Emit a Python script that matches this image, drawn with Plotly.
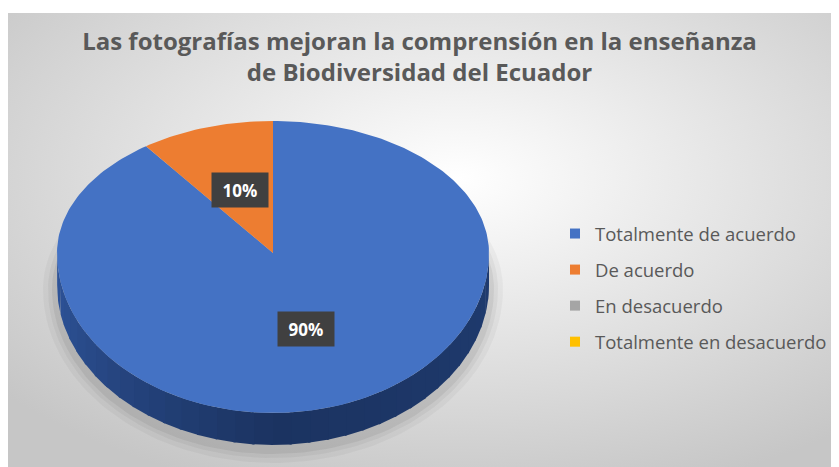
import base64
import numpy as np
import plotly.graph_objects as go

# ---- data ----
categories = ["Totalmente de acuerdo", "De acuerdo", "En desacuerdo", "Totalmente en desacuerdo"]
values = [90, 10, 0, 0]
colors = ["#4472C4", "#ED7D31", "#A5A5A5", "#FFC000"]
title_text = "Las fotografías mejoran la comprensión en la enseñanza<br>de Biodiversidad del Ecuador"

# ---- geometry ----
W, H = 839, 467
OFF = 8                      # page body margin: data coords == screen pixels
FW, FH = W - OFF, H - OFF    # figure size so it ends exactly at the window edge
cx, cy = 273, 253            # apex of the pie's top face
rx = 216
ry_far, ry_near = 132, 160   # perspective: far half flatter than near half
depth = 32


def rim(theta_deg, dy=0.0):
    t = np.radians(theta_deg)
    c = np.cos(t)
    ry = np.where(c > 0, ry_far, ry_near)
    return cx + rx * np.sin(t), cy - ry * c + dy


fig = go.Figure()

# soft shadow under the pie
for grow, alpha in [(14, 0.035), (9, 0.045), (5, 0.06)]:
    th = np.linspace(0, 360, 181)
    sx, sy = rim(th, depth + 4)
    sx = cx + (sx - cx) * (1 + grow / rx)
    sy = (cy + depth + 4) + (sy - cy - depth - 4) * (1 + grow / ry_near)
    fig.add_trace(go.Scatter(x=sx, y=sy, mode="lines", fill="toself",
                             line=dict(width=0), fillcolor=f"rgba(0,0,0,{alpha})",
                             hoverinfo="skip", showlegend=False))

total = sum(values)
angles = np.cumsum([0] + [v / total * 360 for v in values])


def lerp_color(c1, c2, f):
    a = [int(c1[i:i + 2], 16) for i in (1, 3, 5)]
    b = [int(c2[i:i + 2], 16) for i in (1, 3, 5)]
    return "#%02x%02x%02x" % tuple(int(round(a[k] + (b[k] - a[k]) * f)) for k in range(3))


# side wall of the 3D pie (visible front half, 90..270 deg clockwise from top)
seg_edges = np.linspace(90, 270, 37)
for i in range(len(seg_edges) - 1):
    a0, a1 = seg_edges[i], min(seg_edges[i + 1] + 0.6, 270)
    mid = (a0 + a1) / 2
    f = (mid - 90) / 180.0
    if f < 0.5:
        col = lerp_color("#1f3b6f", "#1b3361", f / 0.5)
    else:
        col = lerp_color("#1b3361", "#2f559c", (f - 0.5) / 0.5)
    th = np.linspace(a0, a1, 6)
    tx, ty = rim(th)
    bx, by = rim(th[::-1], depth)
    fig.add_trace(go.Scatter(x=np.r_[tx, bx], y=np.r_[ty, by], mode="lines", fill="toself",
                             line=dict(width=0), fillcolor=col,
                             hoverinfo="skip", showlegend=False))

# top face slices
for i, (cat, v) in enumerate(zip(categories, values)):
    if v <= 0:
        continue
    th = np.linspace(angles[i], angles[i + 1], max(4, int(v * 3)))
    ax, ay = rim(th)
    fig.add_trace(go.Scatter(x=np.r_[cx, ax, cx], y=np.r_[cy, ay, cy], mode="lines",
                             fill="toself", line=dict(width=0), fillcolor=colors[i],
                             name=cat, hoverinfo="name", showlegend=False))

# legend entries
for i, cat in enumerate(categories):
    fig.add_trace(go.Scatter(x=[None], y=[None], mode="markers", name=cat,
                             legendgroup=cat,
                             marker=dict(symbol="square", size=10, color=colors[i])))

# data labels (at half radius along each slice's mid angle)
annotations = []
for i, v in enumerate(values):
    if v <= 0:
        continue
    mid = (angles[i] + angles[i + 1]) / 2
    px, py = rim(mid)
    lx = cx + 0.5 * (px - cx)
    ly = cy + 0.5 * (py - cy)
    annotations.append(dict(x=float(lx), y=float(ly), xref="x", yref="y",
                            text=f"<b>{v / total:.0%}</b>", showarrow=False,
                            bgcolor="#404040", borderpad=5, width=46, height=24,
                            font=dict(family="Open Sans", size=17, color="white")))

svg = ('<svg xmlns="http://www.w3.org/2000/svg" width="832" height="454">'
       '<defs><radialGradient id="g" cx="54%" cy="36%" r="72%">'
       '<stop offset="0%" stop-color="#ffffff"/><stop offset="100%" stop-color="#c6c6c6"/>'
       '</radialGradient></defs><rect width="832" height="454" fill="url(#g)"/></svg>')
bg_src = "data:image/svg+xml;base64," + base64.b64encode(svg.encode()).decode()

fig.update_layout(
    width=FW, height=FH,
    margin=dict(l=0, r=0, t=0, b=0),
    paper_bgcolor="white", plot_bgcolor="rgba(0,0,0,0)",
    xaxis=dict(visible=False, range=[OFF, W], fixedrange=True),
    yaxis=dict(visible=False, range=[H, OFF], fixedrange=True),
    title=dict(text=title_text, x=(419.5 - OFF) / FW, xanchor="center",
               y=1 - 42 / FH, yanchor="top",
               font=dict(family="Open Sans", size=24, color="#595959", weight="bold")),
    legend=dict(x=(595 - 40 - OFF) / FW, xanchor="left", y=1 - 207 / FH, yanchor="top",
                font=dict(family="Open Sans", size=18.5, color="#595959"),
                bgcolor="rgba(0,0,0,0)", tracegroupgap=9, itemclick=False),
    annotations=annotations,
    images=[dict(source=bg_src, xref="paper", yref="paper", x=0, y=1 - 5 / FH,
                 sizex=1, sizey=1, sizing="stretch", layer="below",
                 xanchor="left", yanchor="top")],
    showlegend=True,
)

fig.write_html("out.html")
